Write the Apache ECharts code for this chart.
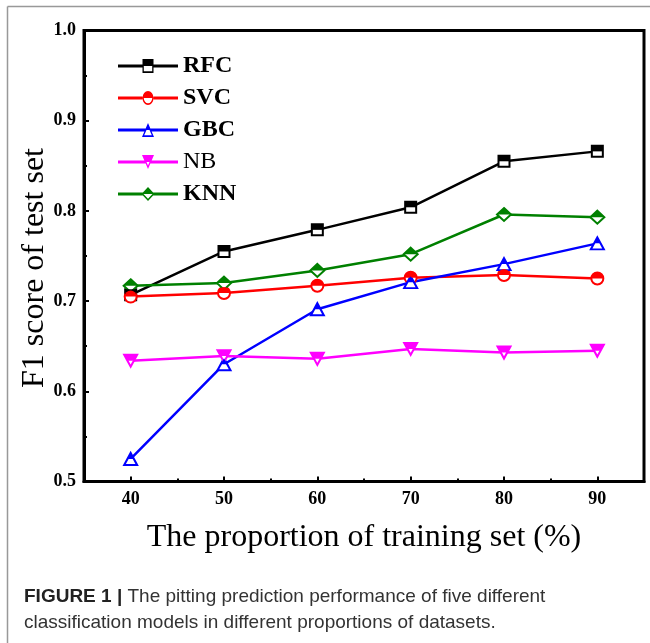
<!DOCTYPE html>
<html><head><meta charset="utf-8">
<script src="https://cdn.jsdelivr.net/npm/echarts@6/dist/echarts.min.js"></script>
<style>html,body{margin:0;padding:0;background:#fff}#c{width:650px;height:643px}</style>
</head><body><div id="c"></div>
<script>
// ---- data ----
const proportions = [40, 50, 60, 70, 80, 90];
const rfc = [0.707, 0.755, 0.779, 0.804, 0.855, 0.866];
const svc = [0.705, 0.709, 0.717, 0.726, 0.729, 0.725];
const gbc = [0.525, 0.630, 0.691, 0.721, 0.741, 0.764];
const nb  = [0.634, 0.639, 0.636, 0.647, 0.643, 0.645];
const knn = [0.717, 0.720, 0.734, 0.752, 0.796, 0.793];
const xTickLabels = [40, 50, 60, 70, 80, 90];
const xMinorTicks = [45, 55, 65, 75, 85];
const modelNames = ['RFC', 'SVC', 'GBC', 'NB', 'KNN'];
const modelValues = [rfc, svc, gbc, nb, knn];

// ---- styles ----
const styles = [
  { color: '#000000', symbol: 'emptyRect', size: [11, 11], rotate: 0,
    top: 'rect', topSize: [11, 5.5], topOff: [0, -2.75],
    icon: 'path://M0,4.25 L24.5,4.25 L24.5,6.75 L0,6.75 Z M35.5,4.25 L60,4.25 L60,6.75 L35.5,6.75 Z M24.5,0 L35.5,0 L35.5,5.5 L24.5,5.5 Z M24.5,5.5 L25.8,5.5 L25.8,9.7 L34.2,9.7 L34.2,5.5 L35.5,5.5 L35.5,11 L24.5,11 Z' },
  { color: '#ff0000', symbol: 'emptyCircle', size: [12, 12], rotate: 0,
    top: 'path://M0,10 A10,10 0 0 1 20,10 Z', topSize: [12, 6], topOff: [0, -3],
    icon: 'path://M0,4.25 L24.5,4.25 L24.5,6.75 L0,6.75 Z M35.5,4.25 L60,4.25 L60,6.75 L35.5,6.75 Z M24.5,5.5 A5.5,5.5 0 0 1 35.5,5.5 Z M24.5,5.5 A5.5,5.5 0 0 0 35.5,5.5 L34.2,5.5 A4.2,4.2 0 0 1 25.8,5.5 Z' },
  { color: '#0000ff', symbol: 'emptyTriangle', size: [13, 12], rotate: 0,
    top: 'triangle', topSize: [6.5, 6], topOff: [0, -3],
    icon: 'path://M0,4.25 L27.5,4.25 L27.5,6.75 L0,6.75 Z M32.5,4.25 L60,4.25 L60,6.75 L32.5,6.75 Z M30,0 L33,5.5 L27,5.5 Z M27,5.5 L28.48,5.5 L26.19,9.7 L33.81,9.7 L31.52,5.5 L33,5.5 L36,11 L24,11 Z' },
  { color: '#ff00ff', symbol: 'emptyTriangle', size: [13, 12], rotate: 180,
    top: 'path://M0,0 L12,0 L9,5.5 L3,5.5 Z', topSize: [13, 6], topOff: [0, -3],
    icon: 'path://M0,4.25 L27.5,4.25 L27.5,6.75 L0,6.75 Z M32.5,4.25 L60,4.25 L60,6.75 L32.5,6.75 Z M24,0 L36,0 L33,5.5 L27,5.5 Z M27,5.5 L28.48,5.5 L30,8.29 L31.52,5.5 L33,5.5 L30,11 Z' },
  { color: '#008000', symbol: 'emptyDiamond', size: [14, 13], rotate: 0,
    top: 'triangle', topSize: [14, 6.5], topOff: [0, -3.25],
    icon: 'path://M0,4.25 L25,4.25 L25,6.75 L0,6.75 Z M35,4.25 L60,4.25 L60,6.75 L35,6.75 Z M30,0 L36.5,5.5 L23.5,5.5 Z M23.5,5.5 L25.51,5.5 L30,9.3 L34.49,5.5 L36.5,5.5 L30,11 Z' }
];

const serif = 'Liberation Serif, Times New Roman, serif';
const series = [];
modelNames.forEach((name, k) => {
  const st = styles[k];
  const pts = proportions.map((x, i) => [x, modelValues[k][i]]);
  series.push({
    name: name, type: 'line', data: pts, z: 2,
    symbol: st.symbol, symbolSize: st.size, symbolRotate: st.rotate,
    showAllSymbol: true, silent: true,
    lineStyle: { color: st.color, width: 2.5 },
    itemStyle: { color: st.color, borderColor: st.color, borderWidth: 1.2 },
    emphasis: { disabled: true }
  });
  series.push({
    name: name + '_top', type: 'scatter', data: pts, z: 3, silent: true,
    symbol: st.top, symbolSize: st.topSize, symbolOffset: st.topOff,
    symbolKeepAspect: false,
    itemStyle: { color: st.color, opacity: 1 },
    emphasis: { disabled: true }
  });
});

const chart = echarts.init(document.getElementById('c'), null, { renderer: 'canvas' });
chart.setOption({
  animation: false,
  backgroundColor: '#ffffff',
  title: {
    left: 24, top: 584, padding: 0,
    text: '{b|FIGURE 1 |} The pitting prediction performance of five different\nclassification models in different proportions of datasets.',
    textStyle: {
      fontFamily: 'Liberation Sans, Arial, sans-serif', fontSize: 19, fontWeight: 'normal',
      color: '#333333', lineHeight: 26,
      rich: { b: { fontFamily: 'Liberation Sans, Arial, sans-serif', fontSize: 19, fontWeight: 'bold', color: '#222222', lineHeight: 26 } }
    }
  },
  graphic: [
    { type: 'line', shape: { x1: 7.5, y1: 6.5, x2: 650, y2: 6.5 }, style: { stroke: '#999999', lineWidth: 1.5 } },
    { type: 'line', shape: { x1: 7.5, y1: 6.5, x2: 7.5, y2: 643 }, style: { stroke: '#999999', lineWidth: 1.5 } }
  ],
  legend: {
    orient: 'vertical', left: 113, top: 49,
    itemWidth: 60, itemHeight: 14, itemGap: 8,
    symbolKeepAspect: false,
    data: modelNames.map((n, k) => ({ name: n, icon: styles[k].icon, itemStyle: { color: styles[k].color, borderWidth: 0 } })),
    itemStyle: { borderWidth: 0 },
    formatter: n => n === 'NB' ? '{n|' + n + '}' : '{b|' + n + '}',
    textStyle: {
      fontFamily: serif, fontSize: 24, color: '#000', lineHeight: 24,
      rich: {
        b: { fontFamily: serif, fontSize: 24, fontWeight: 'bold', color: '#000', lineHeight: 24 },
        n: { fontFamily: serif, fontSize: 24, fontWeight: 'normal', color: '#000', lineHeight: 24 }
      }
    },
    selectedMode: false
  },
  grid: {
    left: 84, right: 6, top: 30.5, bottom: 161.5,
    show: true, borderColor: '#000', borderWidth: 3, backgroundColor: 'transparent'
  },
  xAxis: [{
    type: 'value', min: 35, max: 95, position: 'bottom',
    name: 'The proportion of training set (%)', nameLocation: 'middle', nameGap: 40,
    nameTextStyle: { fontFamily: serif, fontSize: 32, color: '#000' },
    axisLine: { show: true, onZero: false, lineStyle: { color: '#000', width: 3 } },
    axisTick: { show: true, inside: true, length: 5, customValues: xTickLabels, lineStyle: { color: '#000', width: 2 } },
    axisLabel: { show: true, customValues: xTickLabels, margin: 9, fontFamily: serif, fontSize: 18, fontWeight: 'bold', color: '#000' },
    splitLine: { show: false }
  }, {
    type: 'value', min: 35, max: 95, position: 'bottom', gridIndex: 0,
    axisLine: { show: false },
    axisTick: { show: true, inside: true, length: 3, customValues: xMinorTicks, lineStyle: { color: '#000', width: 2 } },
    axisLabel: { show: false },
    splitLine: { show: false }
  }],
  yAxis: {
    type: 'value', min: 0.5, max: 1.0, interval: 0.1,
    name: 'F1 score of test set', nameLocation: 'middle', nameGap: 33, nameRotate: 90,
    nameMoveOverlap: false,
    nameTextStyle: { fontFamily: serif, fontSize: 32, color: '#000', padding: [0, 24, 0, 0] },
    axisLine: { show: true, onZero: false, lineStyle: { color: '#000', width: 3 } },
    axisTick: { show: true, inside: true, length: 5, lineStyle: { color: '#000', width: 2 } },
    minorTick: { show: true, splitNumber: 2, length: 3, lineStyle: { color: '#000', width: 2 } },
    axisLabel: { margin: 8, fontFamily: serif, fontSize: 18, fontWeight: 'bold', color: '#000', formatter: v => v.toFixed(1) },
    splitLine: { show: false }
  },
  series: series
});
</script>
</body></html>
